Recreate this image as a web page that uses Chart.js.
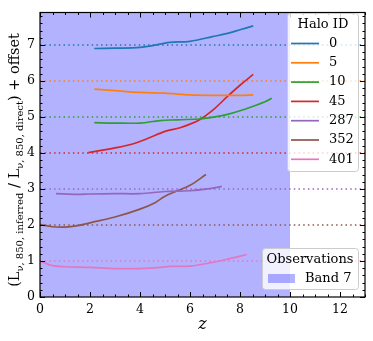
<!DOCTYPE html>
<html>
<head>
<meta charset="utf-8">
<script src="https://cdn.jsdelivr.net/npm/chart.js@4.4.0/dist/chart.umd.min.js"></script>
<style>
  html, body { margin: 0; padding: 0; background: #fff; }
  #wrap { width: 373px; height: 341px; }
</style>
</head>
<body>
<div id="wrap"><canvas id="mychart" width="373" height="341"></canvas></div>
<script>
// halo ids, offsets and colours
const haloIds = ['0', '5', '10', '45', '287', '352', '401'];
const offsets = [7, 6, 5, 4, 3, 2, 1];
const colors = ['#1f77b4', '#ff7f0e', '#2ca02c', '#d62728', '#9467bd', '#8c564b', '#e377c2'];

// redshift / ratio per halo
const z0 = [2.17, 3, 4, 4.8, 5.2, 6, 6.9, 7.5, 8, 8.53];
const r0 = [6.9, 6.91, 6.93, 7.02, 7.07, 7.1, 7.23, 7.32, 7.42, 7.53];
const z5 = [2.17, 3, 4, 5, 6, 7, 8, 8.53];
const r5 = [5.77, 5.73, 5.68, 5.66, 5.61, 5.6, 5.6, 5.61];
const z10 = [2.17, 3, 4, 4.8, 5.5, 6.5, 7, 7.5, 8, 8.5, 9, 9.27];
const r10 = [4.84, 4.83, 4.83, 4.9, 4.92, 4.95, 5.0, 5.07, 5.17, 5.29, 5.42, 5.52];
const z45 = [1.93, 2.5, 3, 3.7, 4.3, 5, 5.6, 6, 6.4, 6.9, 7.5, 8, 8.53];
const r45 = [4.01, 4.08, 4.14, 4.25, 4.4, 4.6, 4.7, 4.8, 4.93, 5.18, 5.57, 5.88, 6.18];
const z287 = [0.64, 1.5, 2, 3, 4, 5, 6, 6.7, 7.27];
const r287 = [2.87, 2.85, 2.86, 2.87, 2.87, 2.93, 2.95, 3.0, 3.07];
const z352 = [0, 0.5, 1, 1.5, 2, 3, 4, 4.6, 5, 5.5, 6, 6.64];
const r352 = [2.01, 1.95, 1.94, 1.98, 2.06, 2.22, 2.44, 2.62, 2.8, 2.95, 3.1, 3.4];
const z401 = [0, 0.5, 1, 2, 3, 4, 4.8, 5.2, 6, 6.9, 7.5, 8.27];
const r401 = [1.0, 0.87, 0.84, 0.82, 0.79, 0.79, 0.82, 0.85, 0.86, 0.96, 1.05, 1.18];

const zs = [z0, z5, z10, z45, z287, z352, z401];
const rs = [r0, r5, r10, r45, r287, r352, r401];

// observation band
const bandName = 'Band 7';
const bandRange = [0, 10];

const xMin = 0, xMax = 13, yMin = 0, yMax = 7.9;
const xTicks = [0, 2, 4, 6, 8, 10, 12];
const yTicks = [0, 1, 2, 3, 4, 5, 6, 7];

const serif = '"DejaVu Serif", serif';

const pts = (xs, ys) => xs.map((v, i) => ({x: v, y: ys[i]}));

const datasets = [];
haloIds.forEach((id, i) => {
  datasets.push({
    label: id,
    data: pts(zs[i], rs[i]),
    borderColor: colors[i],
    borderWidth: 1.7,
    pointRadius: 0,
    tension: 0.35,
    fill: false,
    order: 0
  });
});
offsets.forEach((o, i) => {
  datasets.push({
    label: 'offset ' + o,
    data: [{x: xMin, y: o}, {x: xMax, y: o}],
    borderColor: colors[i],
    borderWidth: 1.5,
    borderDash: [1.5, 3.2],
    pointRadius: 0,
    fill: false,
    order: 5
  });
});
datasets.push({
  label: bandName,
  data: [{x: bandRange[0], y: yMax}, {x: bandRange[1], y: yMax}],
  borderWidth: 0,
  borderColor: 'rgba(0,0,0,0)',
  backgroundColor: 'rgba(0,0,255,0.3)',
  pointRadius: 0,
  fill: 'start',
  order: 10
});

function roundRect(ctx, x, y, w, h, r) {
  ctx.beginPath();
  ctx.moveTo(x + r, y);
  ctx.arcTo(x + w, y, x + w, y + h, r);
  ctx.arcTo(x + w, y + h, x, y + h, r);
  ctx.arcTo(x, y + h, x, y, r);
  ctx.arcTo(x, y, x + w, y, r);
  ctx.closePath();
}

const decor = {
  id: 'decor',
  afterDraw(chart) {
    const {ctx, chartArea: a, scales: {x, y}} = chart;
    ctx.save();
    ctx.strokeStyle = '#000';
    ctx.lineWidth = 1;
    // inward ticks
    ctx.beginPath();
    for (let k = 0; k <= 26; k++) {
      const px = Math.round(x.getPixelForValue(k / 2)) + 0.5;
      const len = k % 4 === 0 ? 5 : 2.5;
      ctx.moveTo(px, a.bottom); ctx.lineTo(px, a.bottom - len);
      ctx.moveTo(px, a.top); ctx.lineTo(px, a.top + len);
    }
    for (let k = 0; k <= 39; k++) {
      const py = Math.round(y.getPixelForValue(k / 5)) + 0.5;
      const len = k % 5 === 0 ? 5 : 2.5;
      ctx.moveTo(a.left, py); ctx.lineTo(a.left + len, py);
      ctx.moveTo(a.right, py); ctx.lineTo(a.right - len, py);
    }
    ctx.stroke();
    ctx.lineWidth = 1.2;
    ctx.strokeRect(a.left, a.top, a.right - a.left, a.bottom - a.top);

    // x title
    ctx.fillStyle = '#000';
    ctx.font = 'italic 16px ' + serif;
    ctx.textAlign = 'center';
    ctx.textBaseline = 'middle';
    ctx.fillText('z', (a.left + a.right) / 2, 325);

    // y title with subscripts
    const parts = [
      ['(L', 14.5, 0], ['ν, 850, inferred', 10, 3.5], [' / L', 14.5, 0],
      ['ν, 850, direct', 10, 3.5], [') + offset', 14.5, 0]
    ];
    let total = 0;
    parts.forEach(p => { ctx.font = p[1] + 'px ' + serif; total += ctx.measureText(p[0]).width; });
    ctx.translate(15, 160);
    ctx.rotate(-Math.PI / 2);
    ctx.textAlign = 'left';
    ctx.textBaseline = 'alphabetic';
    let cx = -total / 2;
    parts.forEach(p => {
      ctx.font = p[1] + 'px ' + serif;
      ctx.fillText(p[0], cx, 4 + p[2]);
      cx += ctx.measureText(p[0]).width;
    });
    ctx.setTransform(1, 0, 0, 1, 0, 0);

    // Halo ID legend
    ctx.fillStyle = 'rgba(255,255,255,0.8)';
    ctx.strokeStyle = '#cccccc';
    ctx.lineWidth = 1;
    roundRect(ctx, 287.5, 13.5, 71, 158, 3);
    ctx.fill(); ctx.stroke();
    ctx.fillStyle = '#000';
    ctx.font = '13px ' + serif;
    ctx.textAlign = 'center';
    ctx.textBaseline = 'middle';
    ctx.fillText('Halo ID', 323, 25);
    ctx.textAlign = 'left';
    haloIds.forEach((id, i) => {
      const yy = 43.5 + i * 19.3;
      ctx.strokeStyle = colors[i];
      ctx.lineWidth = 1.7;
      ctx.beginPath(); ctx.moveTo(291, yy); ctx.lineTo(319, yy); ctx.stroke();
      ctx.fillStyle = '#000';
      ctx.fillText(id, 329, yy);
    });

    // Observations legend
    ctx.fillStyle = 'rgba(255,255,255,0.8)';
    ctx.strokeStyle = '#cccccc';
    ctx.lineWidth = 1;
    roundRect(ctx, 262.5, 248.5, 96, 41, 3);
    ctx.fill(); ctx.stroke();
    ctx.fillStyle = '#000';
    ctx.textAlign = 'center';
    ctx.fillText('Observations', 310, 259.5);
    ctx.fillStyle = 'rgba(0,0,255,0.3)';
    ctx.fillRect(268, 274, 27, 9);
    ctx.fillStyle = '#000';
    ctx.textAlign = 'left';
    ctx.fillText(bandName, 305, 279);
    ctx.restore();
  }
};

const a = document.getElementById('mychart').getContext('2d');
const mychart = new Chart(a, {
  type: 'line',
  data: { datasets: datasets },
  options: {
    responsive: false,
    animation: false,
    layout: { padding: { top: 8, right: 8, left: 0, bottom: 0 } },
    plugins: { legend: { display: false }, tooltip: { enabled: false } },
    scales: {
      x: {
        type: 'linear', min: xMin, max: xMax,
        afterFit: s => { s.height = 44; },
        afterBuildTicks: s => { s.ticks = xTicks.map(v => ({value: v})); },
        grid: { display: false, drawTicks: false },
        border: { display: false },
        ticks: { padding: 5, color: '#000', font: { family: serif, size: 12.5 } }
      },
      y: {
        type: 'linear', min: yMin, max: yMax,
        afterFit: s => { s.width = 40; },
        afterBuildTicks: s => { s.ticks = yTicks.map(v => ({value: v})); },
        grid: { display: false, drawTicks: false },
        border: { display: false },
        ticks: { padding: 5, color: '#000', font: { family: serif, size: 12.5 } }
      }
    }
  },
  plugins: [decor]
});
</script>
</body>
</html>
